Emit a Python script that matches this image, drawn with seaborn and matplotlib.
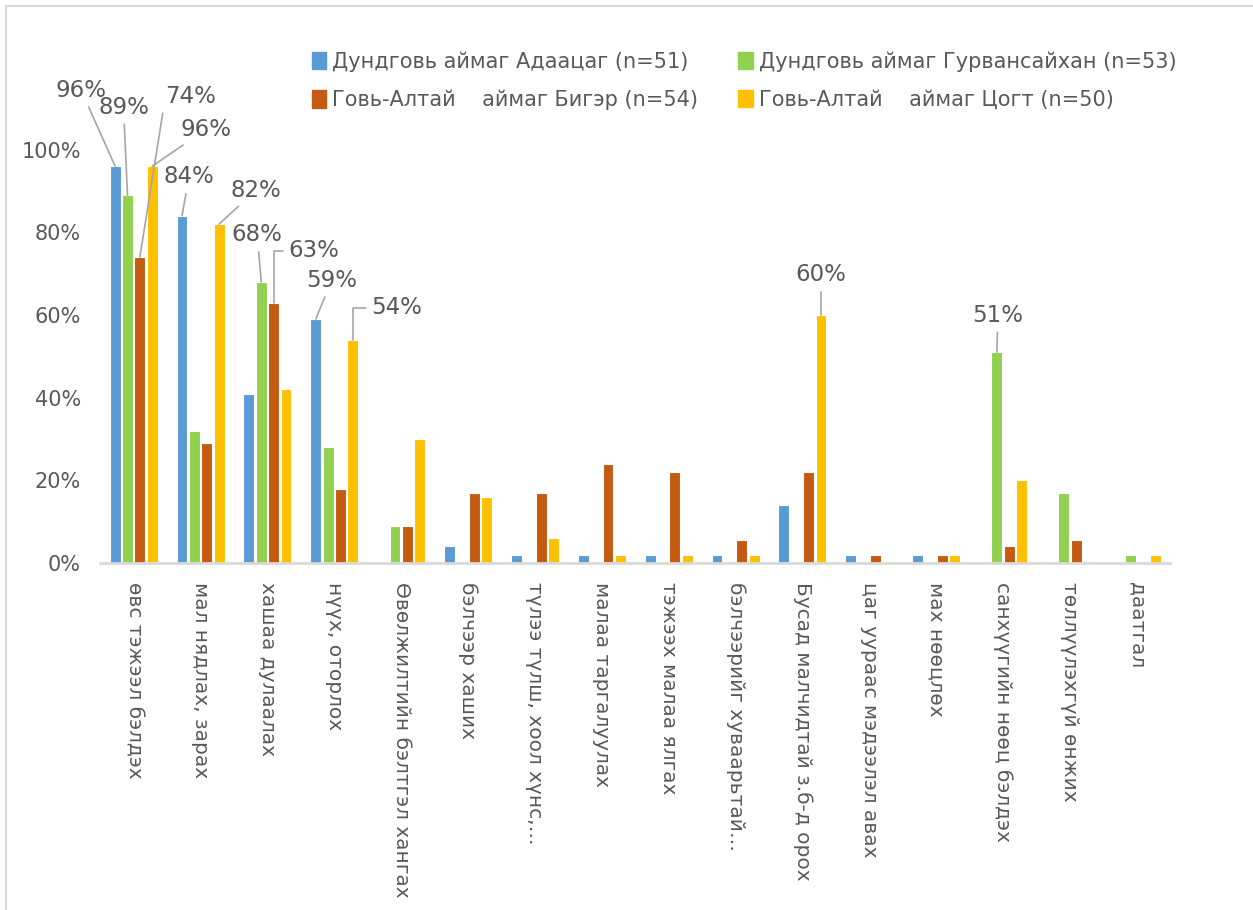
import numpy as np
import pandas as pd
import matplotlib
matplotlib.use("Agg")
import matplotlib.pyplot as plt
from matplotlib.lines import Line2D
import seaborn as sns

categories = [
    "өвс тэжээл бэлдэх", "мал нядлах, зарах", "хашаа дулаалах", "нүүх, оторлох",
    "Өвөлжилтийн бэлтгэл хангах", "бэлчээр хаших", "түлээ түлш, хоол хүнс,…",
    "малаа таргалуулах", "тэжээх малаа ялгах", "бэлчээрийг хуваарьтай…",
    "Бусад малчидтай з.б-д орох", "цаг уураас мэдээлэл авах", "мах нөөцлөх",
    "санхүүгийн нөөц бэлдэх", "төллүүлэхгүй өнжих", "даатгал",
]
series = [
    "Дундговь аймаг Адаацаг (n=51)",
    "Дундговь аймаг Гурвансайхан (n=53)",
    "Говь-Алтай    аймаг Бигэр (n=54)",
    "Говь-Алтай    аймаг Цогт (n=50)",
]
adaatsag = [96, 84, 41, 59, 0, 4, 2, 2, 2, 2, 14, 2, 2, 0, 0, 0]
gurvansaikhan = [89, 32, 68, 28, 9, 0, 0, 0, 0, 0, 0, 0, 0, 51, 17, 2]
bigger = [74, 29, 63, 18, 9, 17, 17, 24, 22, 5.5, 22, 2, 2, 4, 5.5, 0]
tsogt = [96, 82, 42, 54, 30, 16, 6, 2, 2, 2, 60, 0, 2, 20, 0, 2]
colors = ["#5B9BD5", "#92D050", "#C55A11", "#FFC000"]

# label offsets (pixels) for the big values: (category, series, dx, dy, line style)
label_offsets = [
    (0, 0, -34, 76, "straight"), (0, 1, -4, 88, "straight"), (0, 2, 51, 161, "left"),
    (0, 3, 54, 37, "straight"), (1, 0, 7, 39, "straight"), (1, 3, 37, 34, "straight"),
    (2, 1, -4, 47, "straight"), (2, 2, 40, 52, "elbow"), (3, 0, 16, 39, "straight"),
    (3, 3, 44, 32, "elbow"), (10, 3, 0, 40, "straight"), (13, 1, 1, 37, "straight"),
]

values = [adaatsag, gurvansaikhan, bigger, tsogt]
df = pd.DataFrame({
    "cat": np.tile(categories, 4),
    "group": np.repeat(series, len(categories)),
    "val": np.concatenate([np.array(v, dtype=float) / 100 for v in values]),
})

plt.rcParams["font.family"] = ["DejaVu Sans"]
gray = "#595959"

fig = plt.figure(figsize=(12.53, 9.10), dpi=100)
ax = fig.add_axes([0.08, 0.3813, 0.854, 0.5451])
sns.barplot(data=df, x="cat", y="val", hue="group", hue_order=series,
            palette=colors, saturation=1, width=0.74, gap=0.12,
            edgecolor="white", linewidth=0.8, ax=ax)

ax.set_xlim(-0.5, len(categories) - 0.5)
ax.set_ylim(0, 1.2)
ax.set_yticks(np.arange(0, 1.01, 0.2))
ax.set_yticklabels([f"{int(round(t * 100))}%" for t in np.arange(0, 1.01, 0.2)],
                   fontsize=15, color=gray)
ax.set_xticks(range(len(categories)))
ax.set_xticklabels(categories, rotation=-90, fontsize=14.5, color=gray, va="top", ha="center")
ax.tick_params(axis="y", length=0, pad=14)
ax.tick_params(axis="x", length=0, pad=14)
ax.set_xlabel("")
ax.set_ylabel("")
for s in ["top", "right", "left"]:
    ax.spines[s].set_visible(False)
ax.spines["bottom"].set_color("#D9D9D9")
ax.spines["bottom"].set_linewidth(2)

# data labels with leader lines
for ci, si, dx, dy, style in label_offsets:
    bar = ax.containers[si][ci]
    x = bar.get_x() + bar.get_width() / 2
    y = bar.get_height()
    props = dict(arrowstyle="-", color="#A6A6A6", lw=1.2, shrinkA=2, shrinkB=0)
    if style == "elbow":
        props["connectionstyle"] = "angle,angleA=0,angleB=90,rad=0"
    elif style == "left":
        props["relpos"] = (0, 0.5)
    ax.annotate(f"{values[si][ci]:.0f}%", xy=(x, y), xytext=(dx, dy),
                textcoords="offset pixels", ha="center", va="center",
                fontsize=16.5, color=gray, annotation_clip=False,
                arrowprops=props)

handles = [plt.Rectangle((0, 0), 1, 1, color=c) for c in colors]
order = [0, 2, 1, 3]
ax.legend([handles[i] for i in order], [series[i] for i in order], ncol=2,
          loc="upper left", bbox_to_anchor=(0.18, 1.069), frameon=False,
          fontsize=15, labelcolor=gray, handlelength=0.7, handleheight=0.9,
          handletextpad=0.3, columnspacing=1.9, labelspacing=0.85)

# chart area border (top and left edges)
fig.add_artist(Line2D([0.005, 1], [0.993, 0.993], transform=fig.transFigure,
                      color="#D9D9D9", lw=1.5))
fig.add_artist(Line2D([0.005, 0.005], [0, 0.993], transform=fig.transFigure,
                      color="#D9D9D9", lw=1.5))

fig.savefig("out.png", dpi=100, facecolor="white")
